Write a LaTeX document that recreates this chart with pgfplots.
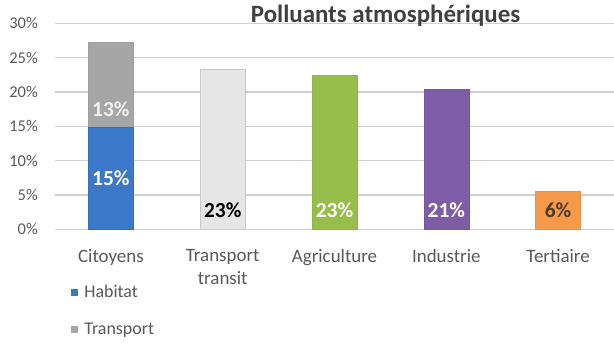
\documentclass[border=0pt]{standalone}
\usepackage{pgfplots}
\pgfplotsset{compat=1.18}
\usepackage{fontspec}
\setmainfont{Carlito}
\definecolor{gridc}{HTML}{CFCFCF}
\definecolor{habitat}{HTML}{3C78C8}
\definecolor{transp}{HTML}{A6A6A6}
\definecolor{ttfill}{HTML}{E6E6E6}
\definecolor{ttdraw}{HTML}{CACACA}
\definecolor{agri}{HTML}{97BE4B}
\definecolor{indus}{HTML}{7D5CA8}
\definecolor{tert}{HTML}{F5994A}
\definecolor{txt}{HTML}{595959}
\definecolor{titlec}{HTML}{404040}
\definecolor{brownlab}{HTML}{4D3B2A}
\tikzset{lab/.style={font=\bfseries\fontsize{21.5}{24}\selectfont}}
\pgfplotsset{
  base/.style={
    at={(55bp,113.7bp)}, anchor=south west,
    scale only axis, width=559bp, height=206bp,
    xmin=-0.5, xmax=4.5, ymin=0, ymax=30,
    clip=false,
  }
}
\begin{document}
\begin{tikzpicture}
\path[use as bounding box] (0,0) rectangle (614bp,343bp);
\begin{axis}[base,
  axis line style={draw=none},
  tick style={draw=none},
  ymajorgrids,
  major grid style={gridc, line width=1.3bp},
  ytick={0,5,10,15,20,25,30},
  yticklabel={\pgfmathprintnumber{\tick}\%},
  /pgf/number format/assume math mode=true,
  yticklabel style={font=\fontsize{16.5}{18}\selectfont, text=txt, anchor=east, inner sep=0pt, xshift=-17bp},
  xtick={0,1,2,3,4},
  xticklabels={Citoyens, {Transport\\transit}, Agriculture, Industrie, Tertiaire},
  xticklabel style={font=\fontsize{19}{23}\selectfont, text=txt, align=center, anchor=north, inner sep=0pt, yshift=-20bp},
]
\addplot[ybar, bar width=45bp, bar shift=0pt, fill=ttfill, draw=ttdraw] coordinates {(1,23.3)};
\addplot[ybar, bar width=45bp, bar shift=0pt, fill=agri, draw=agri!95!black] coordinates {(2,22.5)};
\addplot[ybar, bar width=45bp, bar shift=0pt, fill=indus, draw=indus!95!black] coordinates {(3,20.4)};
\addplot[ybar, bar width=45bp, bar shift=0pt, fill=tert, draw=tert!95!black] coordinates {(4,5.5)};
\end{axis}
\begin{axis}[base,
  hide axis,
  font=\fontsize{18}{21}\selectfont,
  ybar stacked, bar width=45bp,
  legend style={draw=none, fill=none, at={(0,0)}, anchor=north west,
    xshift=16bp, yshift=-54bp, row sep=20bp, inner sep=0pt,
    font=\fontsize{18}{21}\selectfont, text=txt},
  legend cell align=left,
  legend image code/.code={\fill[#1,draw=none] (0bp,-3.5bp) rectangle (7bp,3.5bp); \path (11bp,0bp);},
]
\addplot[fill=habitat, draw=habitat!92!black] coordinates {(0,14.9)};
\addlegendentry{Habitat}
\addplot[fill=transp, draw=transp!95!black] coordinates {(0,12.4)};
\addlegendentry{Transport}
\end{axis}
\begin{axis}[base, hide axis]
\node[lab, text=white] at (axis cs:0,7.4) {15\%};
\node[lab, text=white!95!black] at (axis cs:0,17.5) {13\%};
\node[lab, text=black] at (axis cs:1,2.75) {23\%};
\node[lab, text=white] at (axis cs:2,2.75) {23\%};
\node[lab, text=white] at (axis cs:3,2.75) {21\%};
\node[lab, text=brownlab] at (axis cs:4,2.75) {6\%};
\end{axis}
\node[font=\bfseries\fontsize{25}{28}\selectfont, text=titlec, anchor=base] at (385.5bp,320bp) {Polluants atmosphériques};
\end{tikzpicture}
\end{document}
